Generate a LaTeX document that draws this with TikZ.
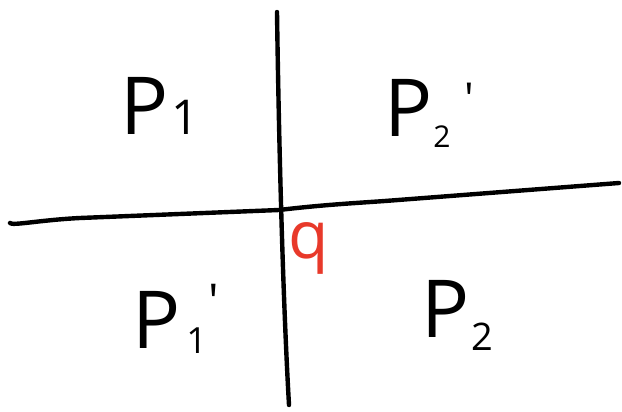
\documentclass[tikz,border=0pt]{standalone}
\usepackage{fontspec}
\setmainfont{Open Sans}
\definecolor{qred}{HTML}{E8392A}
\begin{document}
\begin{tikzpicture}[x=1pt,y=-1pt,
  axis/.style={line width=4.4pt,line cap=round,line join=round},
  lab/.style={anchor=base west,inner sep=0pt,font=\fontsize{80}{80}\selectfont}]
\useasboundingbox (0,0) rectangle (622,412);
\coordinate (vt) at (277,12);
\coordinate (vb) at (289,405);
\coordinate (hl) at (10,223);
\coordinate (hr) at (619,183);
\draw[axis] (vt) .. controls (279,150) and (283,300) .. (vb);
\draw[axis] (hl) .. controls (12,226) and (40,220) .. (80,218)
  -- (279,210) .. controls (330,204) and (360,203) .. (398,200)
  -- (hr);
\node[lab] (p1) at (120,135) {P\hspace{3pt}\fontsize{48}{48}\selectfont 1};
\node[lab] (p2p) at (384,137) {P\hspace{1pt}\raisebox{-10pt}{\fontsize{30}{30}\selectfont 2}\hspace{14pt}\raisebox{22pt}{\fontsize{44}{44}\selectfont\textquotesingle}};
\node[lab] (p1p) at (132,348) {P\hspace{6pt}\raisebox{-5pt}{\fontsize{36}{36}\selectfont 1}\hspace{2pt}\raisebox{30pt}{\fontsize{48}{48}\selectfont\textquotesingle}};
\node[lab] (p2) at (421,337) {P\hspace{2pt}\raisebox{-13pt}{\fontsize{38}{38}\selectfont 2}};
\node[anchor=center,inner sep=0pt,text=qred,font=\fontsize{66}{66}\selectfont] (q) at (309,248) {q};
\end{tikzpicture}
\end{document}
